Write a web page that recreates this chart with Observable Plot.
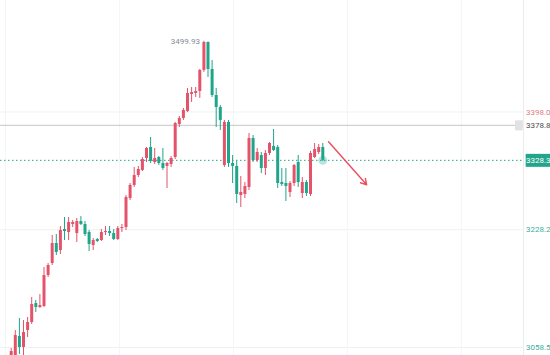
<!DOCTYPE html>
<html><head><meta charset="utf-8">
<script src="https://cdn.jsdelivr.net/npm/d3@7"></script>
<script src="https://cdn.jsdelivr.net/npm/@observablehq/plot@0.6"></script>
<style>
html,body{margin:0;padding:0;background:#fff;overflow:hidden}
#chart{width:550px;height:355px;overflow:hidden}
</style></head><body><div id="chart"></div>
<script>
// OHLC values, one per candle (index 0..76)
const opens  = [3032.6,3042.6,3074.4,3058.5,3083.0,3094.5,3121.9,3116.2,3117.6,3162.3,3179.6,3208.4,3198.3,3228.6,3224.3,3235.8,3222.8,3240.1,3235.8,3224.3,3205.5,3214.2,3212.8,3224.3,3225.7,3222.8,3214.2,3230.0,3231.5,3273.3,3292.1,3306.5,3313.7,3331.0,3346.8,3325.2,3332.4,3323.8,3319.5,3322.3,3332.4,3380.0,3388.7,3398.8,3423.3,3424.7,3427.6,3457.9,3498.2,3459.3,3421.8,3404.5,3320.9,3382.9,3323.8,3319.5,3277.6,3279.1,3289.2,3359.8,3328.1,3335.3,3316.6,3338.2,3348.3,3346.8,3296.4,3294.9,3282.0,3294.9,3325.2,3280.5,3296.4,3279.1,3332.4,3339.6,3346.8];
const highs  = [3057.1,3083.0,3100.3,3097.4,3101.8,3130.6,3126.3,3134.9,3173.8,3179.6,3220.0,3221.4,3232.9,3245.9,3245.9,3241.6,3244.5,3247.3,3240.1,3227.2,3215.6,3215.6,3228.6,3232.9,3232.9,3228.6,3232.9,3235.8,3277.6,3294.9,3318.0,3319.5,3332.4,3346.8,3361.2,3345.4,3333.9,3345.4,3325.2,3333.9,3382.9,3391.5,3403.1,3431.9,3433.3,3433.3,3459.3,3499.93,3499.0,3472.3,3431.9,3407.4,3385.8,3385.8,3335.3,3326.7,3305.0,3296.4,3367.0,3364.1,3345.4,3339.6,3342.5,3354.0,3372.8,3349.7,3316.6,3316.6,3297.8,3322.3,3335.3,3303.6,3299.3,3341.1,3352.6,3351.2,3352.6];
const lows   = [3025.3,3039.8,3048.4,3047.0,3072.9,3091.7,3109.0,3114.7,3116.2,3159.4,3176.7,3191.1,3192.6,3212.8,3212.8,3231.5,3209.9,3234.4,3218.5,3196.9,3198.3,3209.9,3211.3,3220.0,3218.5,3212.8,3212.8,3224.3,3227.2,3270.4,3289.2,3303.6,3312.2,3325.2,3323.8,3322.3,3320.9,3313.7,3287.7,3318.0,3329.5,3375.7,3385.8,3397.3,3411.7,3418.9,3417.5,3455.0,3447.8,3418.9,3375.7,3371.3,3318.0,3318.0,3294.9,3266.1,3260.3,3273.3,3284.8,3325.2,3325.2,3309.4,3306.5,3335.3,3341.1,3287.7,3290.6,3269.0,3274.7,3290.6,3289.2,3273.3,3276.2,3276.2,3331.0,3336.7,3326.7];
const closes = [3052.7,3075.8,3058.5,3080.1,3094.5,3120.5,3116.2,3119.0,3162.3,3176.7,3208.4,3195.5,3227.2,3225.7,3238.7,3238.7,3240.1,3235.8,3221.4,3207.0,3212.8,3211.3,3224.3,3225.7,3222.8,3214.2,3230.0,3231.5,3274.7,3292.1,3306.5,3315.1,3329.5,3345.4,3326.7,3331.0,3323.8,3316.6,3323.8,3331.0,3381.4,3388.7,3400.2,3424.7,3426.1,3427.6,3457.9,3498.2,3459.3,3421.8,3404.5,3385.8,3382.9,3323.8,3319.5,3279.1,3282.0,3290.6,3359.8,3328.1,3339.6,3316.6,3338.2,3352.6,3342.5,3294.9,3293.5,3290.6,3294.9,3320.9,3296.4,3296.4,3280.5,3338.2,3343.9,3346.8,3328.3];

const priceTicksAbove = [3398.0];
const priceTicksBelow = [3228.2, 3058.5];
const gridTicks = [3058.5, 3228.2, 3398.0];
const timeGrid = [-1.4, 26.4, 54.2, 82.0, 109.8];
const markLine = [3378.8];
const lastPrice = [3328.3];
const peak = [{i: 47, v: 3499.93, label: "3499.93"}];
const arrowSeg = [{x1: 77.4, y1: 3355, x2: 86.7, y2: 3293}];

const candles = opens.map((o, i) => ({i, o, h: highs[i], l: lows[i], c: closes[i]}));
const ups = candles.filter(d => d.c >= d.o);
const downs = candles.filter(d => d.c < d.o);
const upC = "#e4536a", downC = "#1fa58a";
const lastI = candles.length - 1;
const fmt = d => d.toFixed(1);

const chart = Plot.plot({
  width: 550, height: 355,
  marginLeft: 0, marginRight: 27, marginTop: 0, marginBottom: 0,
  style: {fontFamily: "Roboto, sans-serif", fontSize: "8px", background: "#fff"},
  x: {domain: [-2.61, 124.95], axis: null},
  y: {domain: [3047, 3558.7]},
  marks: [
    Plot.ruleY(gridTicks, {stroke: "#eef0f2", strokeWidth: 1}),
    Plot.ruleX(timeGrid, {stroke: "#f4f5f7", strokeWidth: 1}),
    Plot.ruleX([124.95], {stroke: "#ececec"}),
    Plot.ruleY(markLine, {stroke: "#c6c6c6", strokeWidth: 1}),
    Plot.ruleY(lastPrice, {stroke: downC, strokeDasharray: "1.5,2.5", strokeWidth: 1}),
    Plot.dot([{i: lastI, v: lastPrice[0]}], {x: "i", y: "v", r: 4.5, fill: downC, fillOpacity: 0.3}),
    Plot.ruleX(ups, {x: "i", y1: "l", y2: "h", stroke: upC, strokeWidth: 1}),
    Plot.ruleX(downs, {x: "i", y1: "l", y2: "h", stroke: downC, strokeWidth: 1}),
    Plot.ruleX(ups, {x: "i", y1: "o", y2: "c", stroke: upC, strokeWidth: 3}),
    Plot.ruleX(downs, {x: "i", y1: "o", y2: "c", stroke: downC, strokeWidth: 3}),
    Plot.arrow(arrowSeg, {x1: "x1", y1: "y1", x2: "x2", y2: "y2", stroke: "#ea4f5e", strokeWidth: 1.4, headLength: 7}),
    Plot.text(peak, {x: "i", y: "v", text: "label", textAnchor: "end", dx: -4, fill: "#858b98", fontSize: 8}),
    Plot.ruleY(markLine, {x1: 123.0, x2: 124.9, stroke: "#e2e2e4", strokeWidth: 10}),
    Plot.ruleY(lastPrice, {x1: 125.6, x2: 132, stroke: "#23a58c", strokeWidth: 13}),
    Plot.axisY(priceTicksAbove, {anchor: "right", tickSize: 0, tickPadding: 2.5, fill: "#e07b86", fontSize: 8, tickFormat: fmt}),
    Plot.axisY(priceTicksBelow, {anchor: "right", tickSize: 0, tickPadding: 2.5, fill: "#3fae9b", fontSize: 8, tickFormat: fmt}),
    Plot.axisY(markLine, {anchor: "right", tickSize: 0, tickPadding: 2.5, fill: "#4d4d4d", fontSize: 8, tickFormat: fmt}),
    Plot.axisY(lastPrice, {anchor: "right", tickSize: 0, tickPadding: 2.5, fill: "#ffffff", fontSize: 8, tickFormat: fmt})
  ]
});
document.getElementById("chart").appendChild(chart);
</script></body></html>
